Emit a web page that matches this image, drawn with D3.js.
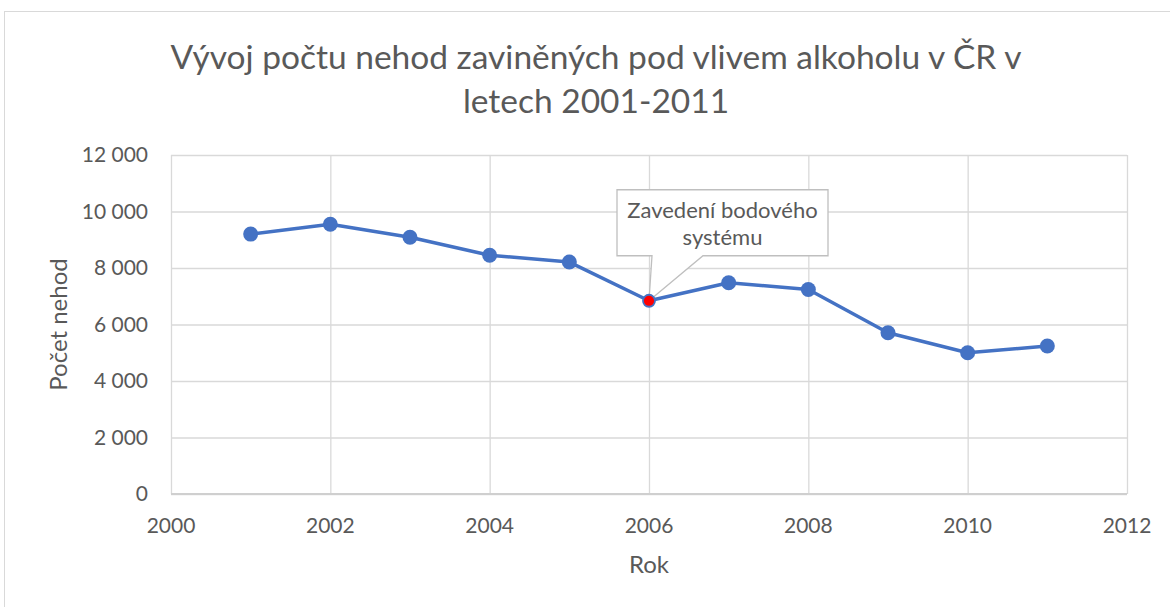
<!DOCTYPE html>
<html>
<head>
<meta charset="utf-8">
<script src="https://cdn.jsdelivr.net/npm/d3@7"></script>
<style>
  body { margin: 0; background: #fff; }
  svg { display: block; font-family: Lato, "Open Sans", sans-serif; }
</style>
</head>
<body>
<div id="chart"></div>
<script>
// data
const years = [2001, 2002, 2003, 2004, 2005, 2006, 2007, 2008, 2009, 2010, 2011];
const accidents = [9200, 9550, 9090, 8450, 8210, 6840, 7480, 7240, 5710, 5000, 5240];
const xTicks = [2000, 2002, 2004, 2006, 2008, 2010, 2012];
const yTicks = [0, 2000, 4000, 6000, 8000, 10000, 12000];
const titleLines = ['Vývoj počtu nehod zaviněných pod vlivem alkoholu v ČR v', 'letech 2001-2011'];
const calloutLines = ['Zavedení bodového', 'systému'];
const calloutYear = 2006;

const width = 1170, height = 607;
const margin = { top: 155, right: 43, bottom: 113, left: 171 };
const gray = '#d9d9d9', textColor = '#595959', blue = '#4472C4';

const svg = d3.select('#chart')
  .append('svg')
  .attr('width', width)
  .attr('height', height);

// chart frame (runs off the right/bottom edges)
svg.append('rect')
  .attr('x', 4.5).attr('y', 11.5)
  .attr('width', width + 20).attr('height', height + 20)
  .attr('fill', 'none')
  .attr('stroke', gray);

const x = d3.scaleLinear().domain([2000, 2012]).range([margin.left, width - margin.right]);
const y = d3.scaleLinear().domain([0, 12000]).range([height - margin.bottom, margin.top]);

// title
svg.append('text')
  .attr('text-anchor', 'middle')
  .attr('fill', textColor)
  .style('font-size', '33.5px')
  .selectAll('tspan')
  .data(titleLines)
  .join('tspan')
  .attr('x', 596)
  .attr('y', (d, i) => 69 + i * 44)
  .text(d => d);

// gridlines
svg.append('g')
  .attr('transform', `translate(${margin.left},0)`)
  .call(d3.axisLeft(y).tickValues(yTicks).tickSize(-(width - margin.left - margin.right)).tickFormat(''))
  .call(g => g.select('.domain').remove())
  .call(g => g.selectAll('line').attr('stroke', gray).attr('stroke-width', 1.3));

svg.append('g')
  .attr('transform', `translate(0,${height - margin.bottom})`)
  .call(d3.axisBottom(x).tickValues(xTicks).tickSize(-(height - margin.top - margin.bottom)).tickFormat(''))
  .call(g => g.select('.domain').remove())
  .call(g => g.selectAll('line').attr('stroke', gray).attr('stroke-width', 1.3));

// axis base line
svg.append('line')
  .attr('x1', x(2000)).attr('x2', x(2012))
  .attr('y1', y(0)).attr('y2', y(0))
  .attr('stroke', '#cfcfcf').attr('stroke-width', 2);

const fmt = v => d3.format(',')(v).replace(/,/g, ' ');

// tick labels
svg.append('g')
  .selectAll('text')
  .data(yTicks)
  .join('text')
  .attr('x', 148)
  .attr('y', d => y(d))
  .attr('dy', '0.35em')
  .attr('text-anchor', 'end')
  .attr('fill', textColor)
  .style('font-size', '21px')
  .text(fmt);

svg.append('g')
  .selectAll('text')
  .data(xTicks)
  .join('text')
  .attr('x', d => x(d))
  .attr('y', 533)
  .attr('text-anchor', 'middle')
  .attr('fill', textColor)
  .style('font-size', '21px')
  .text(d => d);

// axis titles
svg.append('text')
  .attr('x', (x(2000) + x(2012)) / 2)
  .attr('y', 573)
  .attr('text-anchor', 'middle')
  .attr('fill', textColor)
  .style('font-size', '24px')
  .text('Rok');

svg.append('text')
  .attr('transform', `translate(67,${(y(0) + y(12000)) / 2}) rotate(-90)`)
  .attr('text-anchor', 'middle')
  .attr('fill', textColor)
  .style('font-size', '24px')
  .text('Počet nehod');

// series
const data = years.map((yr, i) => ({ year: yr, value: accidents[i] }));

svg.append('path')
  .datum(data)
  .attr('d', d3.line().x(d => x(d.year)).y(d => y(d.value)))
  .attr('fill', 'none')
  .attr('stroke', blue)
  .attr('stroke-width', 3.5)
  .attr('stroke-linejoin', 'round');

svg.append('g')
  .selectAll('circle')
  .data(data.filter(d => d.year !== calloutYear))
  .join('circle')
  .attr('cx', d => x(d.year))
  .attr('cy', d => y(d.value))
  .attr('r', 7.5)
  .attr('fill', blue);

// callout
const cp = data.find(d => d.year === calloutYear);
const px = x(cp.year), py = y(cp.value);
const bx0 = px - 32, bx1 = px + 179, by0 = py - 111, by1 = py - 45;
svg.append('path')
  .attr('d', `M${bx0},${by0}H${bx1}V${by1}H${px + 54}L${px},${py}L${px + 3},${by1}H${bx0}Z`)
  .attr('fill', '#fff')
  .attr('stroke', '#bfbfbf')
  .attr('stroke-width', 1.3);

svg.append('text')
  .attr('text-anchor', 'middle')
  .attr('fill', textColor)
  .style('font-size', '22px')
  .selectAll('tspan')
  .data(calloutLines)
  .join('tspan')
  .attr('x', (bx0 + bx1) / 2)
  .attr('y', (d, i) => by0 + 28 + i * 27)
  .text(d => d);

svg.append('circle')
  .attr('cx', px).attr('cy', py)
  .attr('r', 6)
  .attr('fill', '#ff0000')
  .attr('stroke', blue)
  .attr('stroke-width', 1.8);
</script>
</body>
</html>
